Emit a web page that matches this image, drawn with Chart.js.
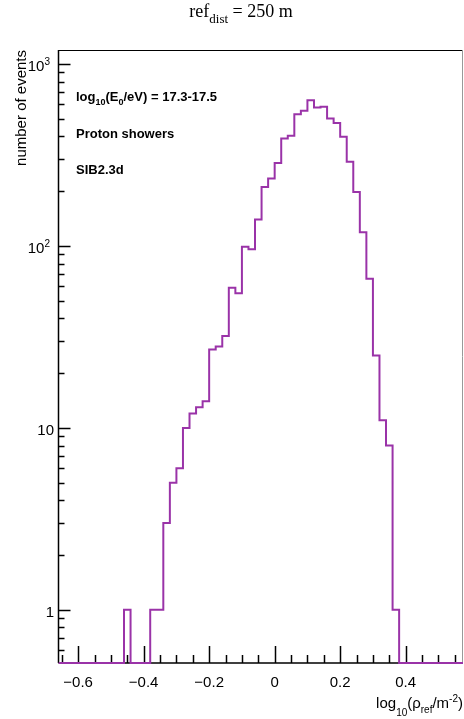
<!DOCTYPE html>
<html>
<head>
<meta charset="utf-8">
<script src="https://cdn.jsdelivr.net/npm/chart.js@4.4.1/dist/chart.umd.min.js"></script>
<style>
  html, body { margin: 0; padding: 0; background: #fff; }
  #wrap { width: 464px; height: 719px; }
</style>
</head>
<body>
<div id="wrap"><canvas id="hist" width="464" height="719"></canvas></div>
<script>
"use strict";

// histogram binning: log10(rho_ref / m^-2), 0.02 wide bins from -0.66
const binStart = -0.66;
const binWidth = 0.02;
const counts = [
  0, 0, 0, 0, 0, 0, 0, 0, 0, 0,
  1, 0, 0, 0, 1, 1,
  3, 5, 6, 10, 12, 13, 14, 27, 28, 32,
  59, 55, 99, 96, 140, 211, 235, 286, 390, 403,
  530, 553, 633, 577, 582, 502, 475, 398, 290, 198,
  119, 66, 25, 11, 8, 1,
  0, 0, 0, 0, 0, 0, 0, 0, 0, 0,
];

const xRange = [-0.66, 0.575];
const yRange = [0.51, 1195];

const xTickValues = [-0.6, -0.4, -0.2, 0, 0.2, 0.4];
const xTickLabels = ["\u22120.6", "\u22120.4", "\u22120.2", "0", "0.2", "0.4"];
const yTickValues = [1, 10, 100, 1000];
const yTickLabels = [["1", ""], ["10", ""], ["10", "2"], ["10", "3"]];

const infoLines = ["Proton showers", "SIB2.3d"];

// step outline: one point per lower bin edge plus the final upper edge
function buildPoints() {
  const pts = counts.map((c, i) => ({
    x: binStart + i * binWidth,
    y: c > 0 ? c : yRange[0],
  }));
  const last = counts[counts.length - 1];
  pts.push({ x: binStart + counts.length * binWidth, y: last > 0 ? last : yRange[0] });
  return pts;
}

const SANS = '"Liberation Sans", Arial, Helvetica, sans-serif';
const SERIF = '"Liberation Serif", "Times New Roman", serif';

// draws a run of text pieces with their own font and vertical offset
function drawRich(ctx, parts, x, y, align) {
  let total = 0;
  parts.forEach((p) => {
    ctx.font = p.font;
    p.w = ctx.measureText(p.text).width;
    total += p.w;
  });
  if (align === "right") x -= total;
  else if (align === "center") x -= total / 2;
  ctx.textAlign = "left";
  ctx.textBaseline = "alphabetic";
  parts.forEach((p) => {
    ctx.font = p.font;
    ctx.fillText(p.text, x, y + (p.dy || 0));
    x += p.w;
  });
}

const rootFrame = {
  id: "rootFrame",
  beforeDatasetsDraw(chart) {
    const { ctx, chartArea: a, scales } = chart;
    const xs = scales.x;
    const ys = scales.y;
    ctx.save();
    ctx.fillStyle = "#000";
    ctx.strokeStyle = "#000";

    // frame
    ctx.lineWidth = 1;
    ctx.beginPath();
    ctx.moveTo(a.left, a.top + 0.5);
    ctx.lineTo(a.right, a.top + 0.5);
    ctx.stroke();
    ctx.strokeStyle = "#999";
    ctx.beginPath();
    ctx.moveTo(a.right - 0.5, a.top);
    ctx.lineTo(a.right - 0.5, a.bottom);
    ctx.stroke();
    ctx.strokeStyle = "#000";
    ctx.lineWidth = 1.5;
    ctx.beginPath();
    ctx.moveTo(a.left, a.top);
    ctx.lineTo(a.left, a.bottom);
    ctx.moveTo(a.left, a.bottom);
    ctx.lineTo(a.right, a.bottom);
    ctx.stroke();

    // x ticks, pointing into the pad
    ctx.lineWidth = 1.5;
    ctx.beginPath();
    for (let k = -13; k <= 11; k++) {
      const v = k * 0.05;
      if (v < xRange[0] || v > xRange[1]) continue;
      const px = Math.round(xs.getPixelForValue(v)) + 0.5;
      const len = k % 4 === 0 ? 17 : 8;
      ctx.moveTo(px, a.bottom);
      ctx.lineTo(px, a.bottom - len);
    }
    ctx.stroke();

    // y ticks on the log axis
    ctx.beginPath();
    [0.1, 1, 10, 100, 1000].forEach((d) => {
      for (let m = 1; m <= 9; m++) {
        const v = m * d;
        if (v < yRange[0] || v > yRange[1]) continue;
        const py = Math.round(ys.getPixelForValue(v)) + 0.5;
        const len = m === 1 ? 12 : 6;
        ctx.moveTo(a.left, py);
        ctx.lineTo(a.left + len, py);
      }
    });
    ctx.stroke();

    // tick labels
    const big = "15px " + SANS;
    const small = "10px " + SANS;
    xTickValues.forEach((v, i) => {
      drawRich(ctx, [{ text: xTickLabels[i], font: big }], xs.getPixelForValue(v), a.bottom + 24, "center");
    });
    yTickValues.forEach((v, i) => {
      const [base, sup] = yTickLabels[i];
      const parts = [{ text: base, font: big }];
      if (sup) parts.push({ text: sup, font: small, dy: -6 });
      drawRich(ctx, parts, sup ? 50 : 54, ys.getPixelForValue(v) + 7, "right");
    });

    // axis titles
    drawRich(ctx, [
      { text: "log", font: big },
      { text: "10", font: small, dy: 8 },
      { text: "(\u03c1", font: big },
      { text: "ref", font: small, dy: 5 },
      { text: "/m", font: big },
      { text: "-2", font: small, dy: -6 },
      { text: ")", font: big },
    ], a.right, a.bottom + 45, "right");

    ctx.save();
    ctx.translate(26, a.top);
    ctx.rotate(-Math.PI / 2);
    drawRich(ctx, [{ text: "number of events", font: big }], 0, 0, "right");
    ctx.restore();

    // pad title
    drawRich(ctx, [
      { text: "ref", font: "18px " + SERIF },
      { text: "dist", font: "13px " + SERIF, dy: 6 },
      { text: " = 250 m", font: "18px " + SERIF },
    ], 241, 17, "center");

    // info text
    const bold = "bold 13px " + SANS;
    const boldSmall = "bold 9px " + SANS;
    drawRich(ctx, [
      { text: "log", font: bold },
      { text: "10", font: boldSmall, dy: 4 },
      { text: "(E", font: bold },
      { text: "0", font: boldSmall, dy: 4 },
      { text: "/eV) = 17.3-17.5", font: bold },
    ], 76, 101, "left");
    infoLines.forEach((t, i) => {
      drawRich(ctx, [{ text: t, font: bold }], 76, 137.5 + i * 36, "left");
    });

    ctx.restore();
  },
};

new Chart(document.getElementById("hist").getContext("2d"), {
  type: "line",
  data: {
    datasets: [
      {
        data: buildPoints(),
        // horizontal across each bin first, then the vertical edge
        stepped: "before",
        borderColor: "#9a33a8",
        borderWidth: 2,
        pointRadius: 0,
        fill: false,
        tension: 0,
        clip: { left: 0, top: 0, right: 0, bottom: 3 },
      },
    ],
  },
  options: {
    responsive: false,
    animation: false,
    layout: { padding: { left: 58.5, right: 1, top: 50, bottom: 56 } },
    plugins: { legend: { display: false }, tooltip: { enabled: false } },
    scales: {
      x: { type: "linear", min: xRange[0], max: xRange[1], display: false },
      y: { type: "logarithmic", min: yRange[0], max: yRange[1], display: false },
    },
  },
  plugins: [rootFrame],
});
</script>
</body>
</html>
